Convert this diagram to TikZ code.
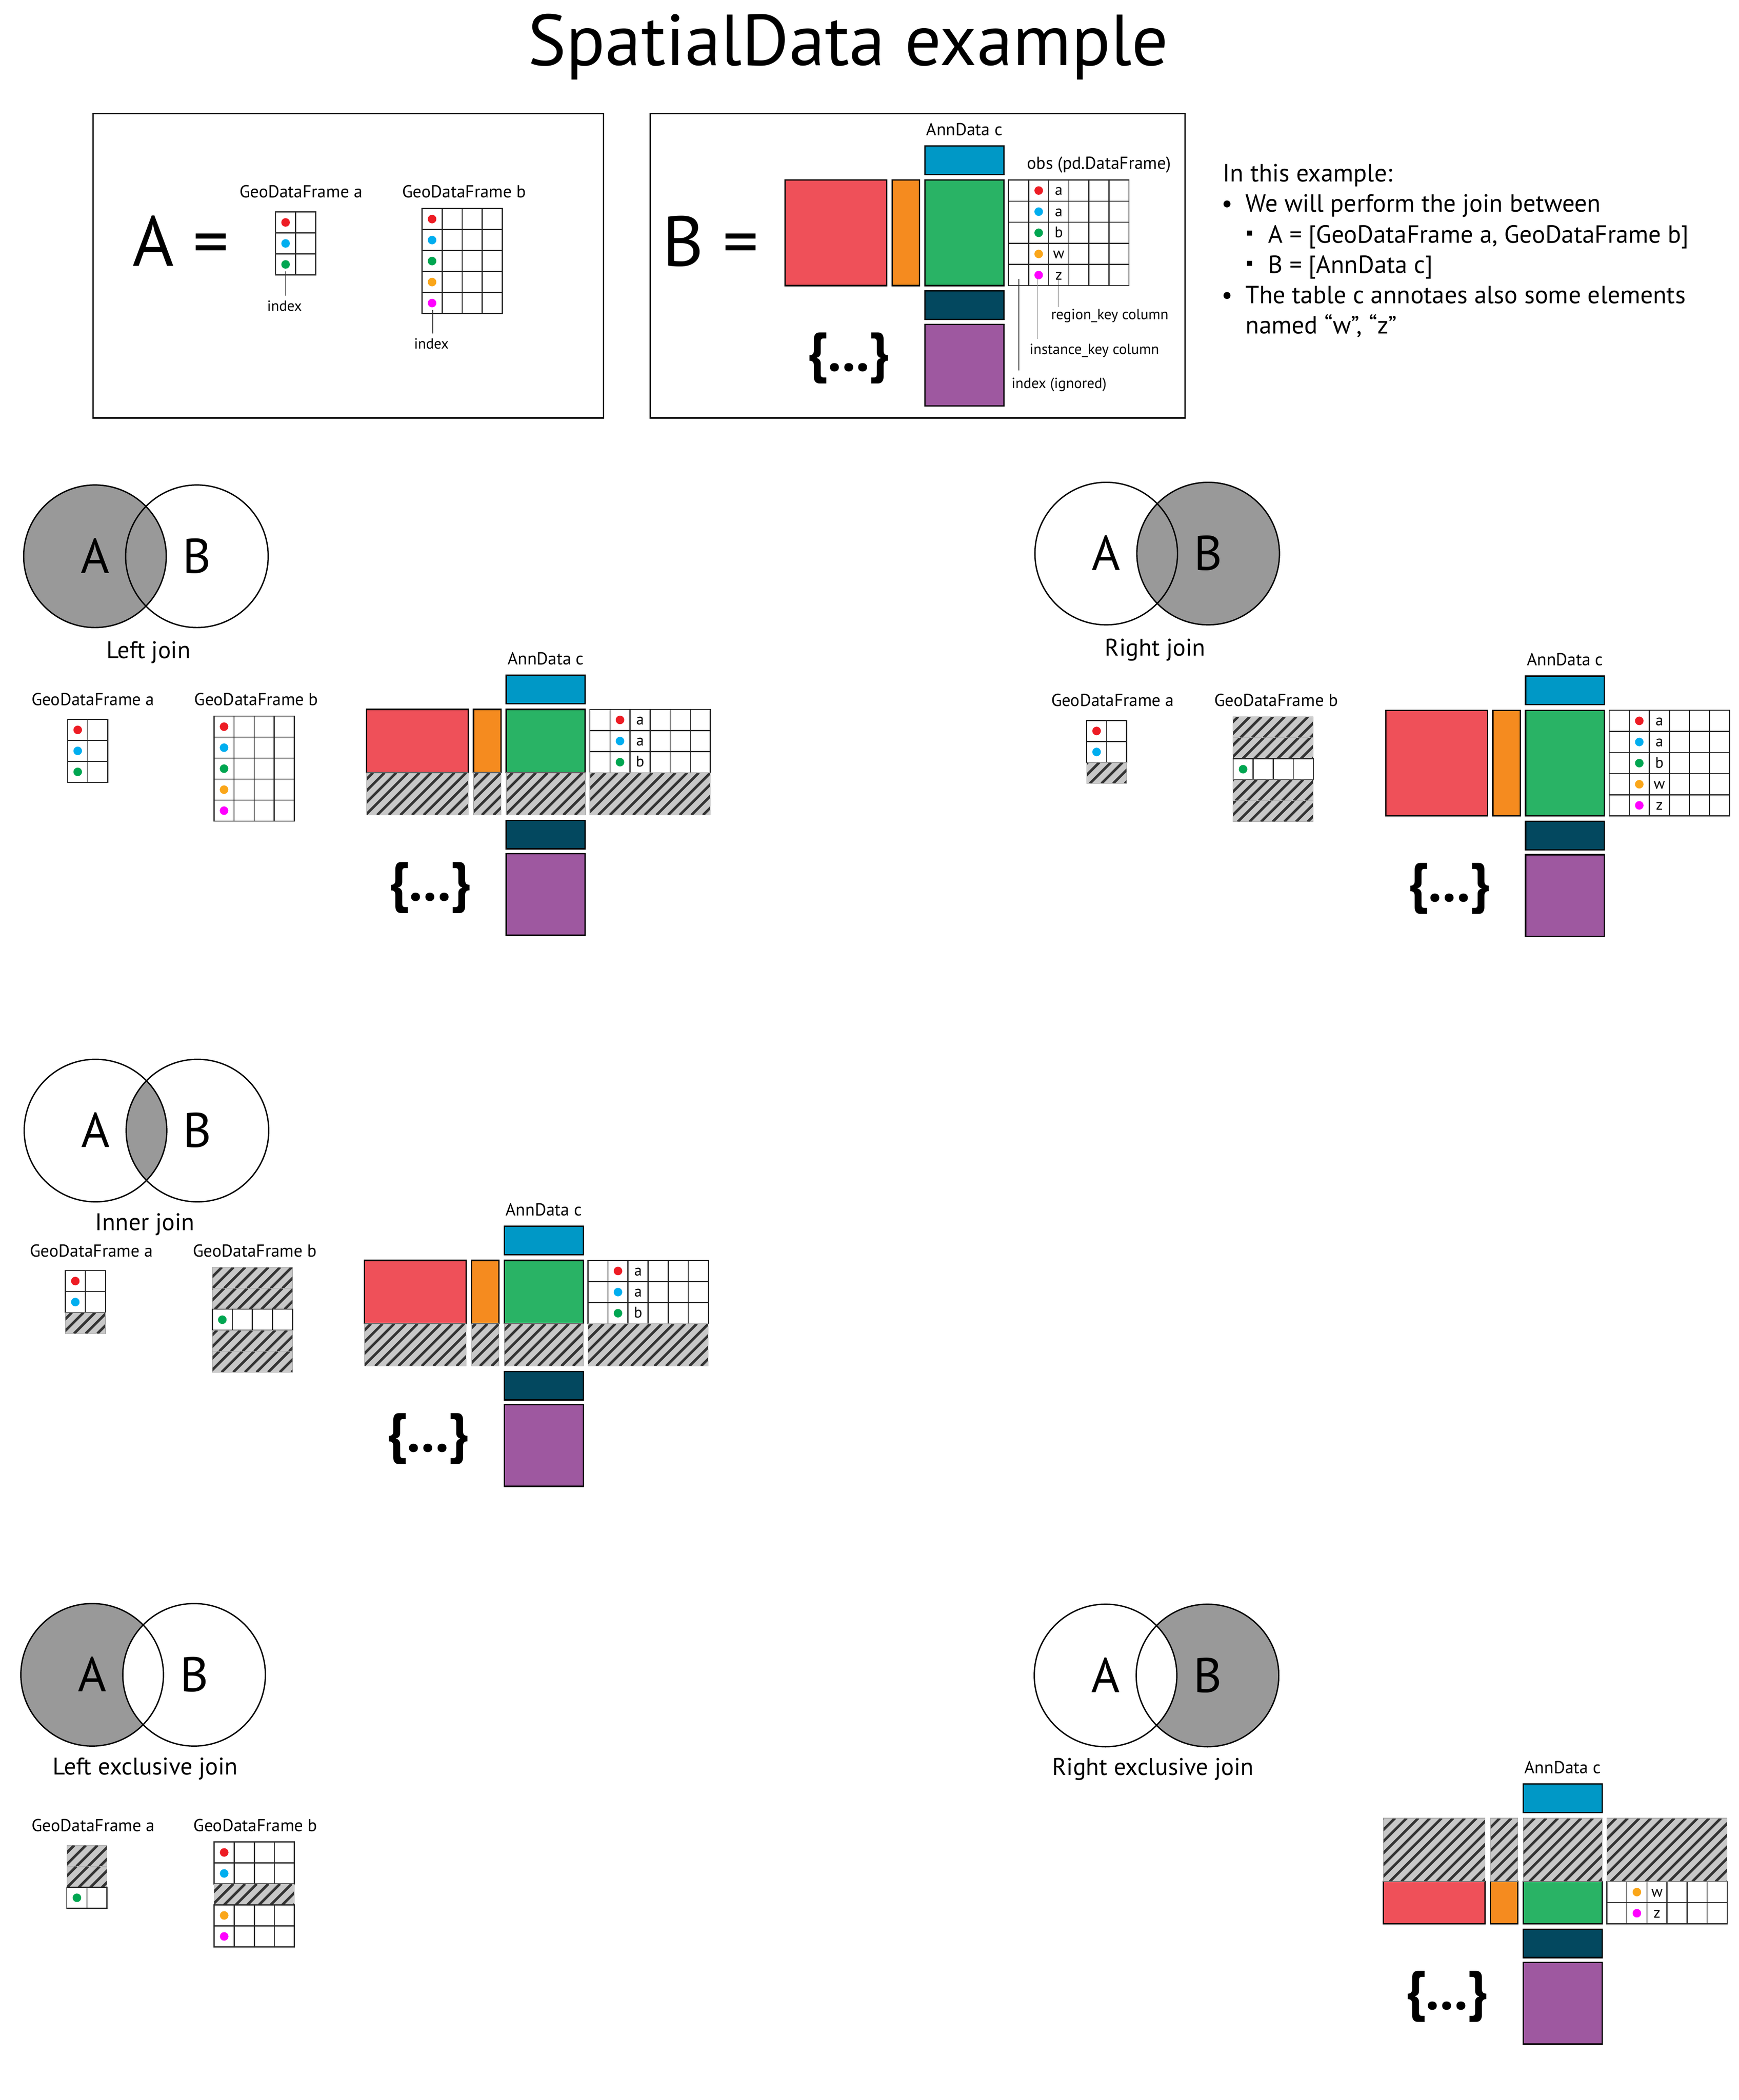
\documentclass[tikz,border=0pt]{standalone}
\usepackage{fontspec}
\setmainfont{PT Sans}
\usepackage{ifthen}

\definecolor{adred}{HTML}{EF5059}
\definecolor{adorange}{HTML}{F58B1F}
\definecolor{adgreen}{HTML}{29B365}
\definecolor{adblue}{HTML}{0098C6}
\definecolor{adteal}{HTML}{03485F}
\definecolor{adpurple}{HTML}{9E58A0}
\definecolor{venngray}{HTML}{999999}
\definecolor{hatchbg}{HTML}{C8C8C8}
\definecolor{hatchfg}{HTML}{333333}
\definecolor{dotR}{HTML}{ED1C24}
\definecolor{dotC}{HTML}{00AEEF}
\definecolor{dotG}{HTML}{00A651}
\definecolor{dotO}{HTML}{FAA61A}
\definecolor{dotM}{HTML}{FF00FF}

\tikzset{
  cell/.style={draw=black!85, line width=0.8pt},
  block/.style={draw=black, line width=1pt},
  panel/.style={draw=black, line width=1pt},
  venn/.style={draw=black, line width=1pt},
  stripe/.style={hatchfg, line width=1.9pt},
  hatchedge/.style={draw=black!35, line width=0.4pt},
  leader/.style={draw=black!80, line width=0.5pt},
  lbl/.style={inner sep=0pt, anchor=base, font=\fontsize{13}{15}\selectfont},
  small/.style={inner sep=0pt, anchor=base west, font=\fontsize{11}{13}\selectfont},
  cellfont/.style={inner sep=0pt, anchor=base, font=\fontsize{11.5}{13}\selectfont},
  txt/.style={inner sep=0pt, anchor=base west, font=\fontsize{18.6}{22}\selectfont},
  joinlbl/.style={inner sep=0pt, anchor=base, font=\fontsize{18}{21}\selectfont},
  vennlbl/.style={inner sep=0pt, anchor=base, font=\fontsize{36.5}{40}\selectfont},
  big/.style={inner sep=0pt, anchor=base west, font=\fontsize{53}{60}\selectfont},
  brace/.style={inner sep=0pt, anchor=base, font=\bfseries\fontsize{41}{46}\selectfont},
}

% striped grey box: x1 y1 x2 y2 (y grows downwards)
\newcommand{\hatchbox}[4]{%
  \begin{scope}
    \clip ({#1},{#2}) rectangle ({#3},{#4});
    \fill[hatchbg] ({#1},{#2}) rectangle ({#3},{#4});
    \pgfmathtruncatemacro{\kmin}{floor(((#1)+(#2))/8.7)}
    \pgfmathtruncatemacro{\kmax}{ceil(((#3)+(#4))/8.7)}
    \foreach \k in {\kmin,...,\kmax}
      \draw[stripe] ({\k*8.7-(#2)},{#2}) -- ({\k*8.7-(#4)},{#4});
  \end{scope}
  \draw[hatchedge] ({#1},{#2}) rectangle ({#3},{#4});}

% GeoDataFrame: name x y ncols rows
\newcommand{\gdftable}[5]{%
  \coordinate (#1) at (#2,#3);
  \foreach \rowc [count=\r from 0] in {#5} {
    \pgfmathsetmacro{\ya}{(#3)+\r*15.7}
    \pgfmathsetmacro{\yb}{\ya+15.7}
    \pgfmathsetmacro{\xb}{(#2)+(#4)*15}
    \ifthenelse{\equal{\rowc}{hatch}}
      {\hatchbox{#2}{\ya}{\xb}{\yb}}
      {\foreach \j in {1,...,#4}
         \draw[cell] ({(#2)+(\j-1)*15},\ya) rectangle ++(15,15.7);
       \fill[\rowc] ({(#2)+7.5},{\ya+7.85}) circle[radius=3.2pt];}
  }}

% AnnData: name x y firstrow lastrow
\newcommand{\anndata}[5]{%
  \begin{scope}[shift={(#2,#3)}]
    \pgfmathsetmacro{\ya}{(#4-1)*15.8}
    \pgfmathsetmacro{\yb}{#5*15.8}
    \draw[block, fill=adred] (0,\ya) rectangle (76,\yb);
    \draw[block, fill=adorange] (80,\ya) rectangle (100.5,\yb);
    \draw[block, fill=adgreen] (104.5,\ya) rectangle (163.5,\yb);
    \foreach \r/\dc/\lt in {1/dotR/a,2/dotC/a,3/dotG/b,4/dotO/w,5/dotM/z} {
      \ifnum\r<#4\relax\else\ifnum\r>#5\relax\else
        \foreach \j in {0,...,5}
          \draw[cell] ({167+\j*15},{(\r-1)*15.8}) rectangle ++(15,15.8);
        \fill[\dc] (189.5,{(\r-0.5)*15.8}) circle[radius=3.2pt];
        \node[cellfont] (#1-l\r) at (204.5,{(\r-0.5)*15.8+3.5}) {\lt};
      \fi\fi
    }
    \ifnum#4>1
      \hatchbox{0}{0}{76}{\ya}
      \hatchbox{80}{0}{100.5}{\ya}
      \hatchbox{104.5}{0}{163.5}{\ya}
      \hatchbox{167}{0}{257}{\ya}
    \fi
    \ifnum#5<5
      \hatchbox{0}{\yb}{76}{79}
      \hatchbox{80}{\yb}{100.5}{79}
      \hatchbox{104.5}{\yb}{163.5}{79}
      \hatchbox{167}{\yb}{257}{79}
    \fi
    \draw[block, fill=adblue] (104.5,-25.5) rectangle (163.5,-4.2);
    \draw[block, fill=adteal] (104.5,83) rectangle (163.5,104.3);
    \draw[block, fill=adpurple] (104.5,108) rectangle (163.5,169);
    \node[lbl] (#1-title) at (134,-33.4) {AnnData c};
    \node[brace] (#1-more) at (47.5,143) {\{...\}};
  \end{scope}}

% two circles with their letters: name xA y
\newcommand{\venncircles}[3]{%
  \draw[venn] (#2,#3) circle[radius=53.3pt];
  \draw[venn] ({#2+76.2},#3) circle[radius=53.3pt];
  \node[vennlbl] (#1-A) at (#2,{#3+12.5}) {A};
  \node[vennlbl] (#1-B) at ({#2+76.2},{#3+12.5}) {B};}

\begin{document}
\begin{tikzpicture}[x=1pt, y=-1pt]
  \fill[white] (0,0) rectangle (1300,1570.5);
  \useasboundingbox (0,0) rectangle (1300,1570.5);

  \node[inner sep=0pt, anchor=base, font=\fontsize{54}{60}\selectfont] (title) at (634,49) {SpatialData example};

  % panel A
  \draw[panel] (69.5,85) rectangle (451.3,312.5);
  \node[big] (pa-eq) at (99,199) {A =};
  \node[lbl] (pa-a) at (225,147.8) {GeoDataFrame a};
  \node[lbl] (pa-b) at (347,147.8) {GeoDataFrame b};
  \gdftable{pa-ta}{206}{158.5}{2}{dotR,dotC,dotG}
  \gdftable{pa-tb}{315.5}{156}{4}{dotR,dotC,dotG,dotO,dotM}
  \node[small, anchor=base] (pa-ixa) at (212.7,232.6) {index};
  \node[small, anchor=base] (pa-ixb) at (322.5,260.8) {index};
  \coordinate (pa-da) at (213.4,203);
  \coordinate (pa-db) at (323.6,231.8);
  \draw[leader, shorten >=3.4pt] (pa-da) -- (pa-da |- pa-ixa.north);
  \draw[leader, shorten >=3.4pt] (pa-db) -- (pa-db |- pa-ixb.north);

  % panel B
  \draw[panel] (486,85) rectangle (886,312.5);
  \node[big] (pb-eq) at (495,199) {B =};
  \anndata{pb}{587}{134.6}{1}{5}
  \node[lbl, anchor=base west] (pb-obs) at (767.6,126.5) {obs (pd.DataFrame)};
  \coordinate (pb-s1) at (761.6,208.5);
  \coordinate (pb-e1) at (761.6,277);
  \coordinate (pb-s2) at (775.6,208);
  \coordinate (pb-e2) at (775.6,253.6);
  \coordinate (pb-s3) at (791,209);
  \coordinate (pb-e3) at (791,229.6);
  \draw[leader] (pb-s1) -- (pb-e1);
  \draw[leader, black!45] (pb-s2) -- (pb-e2);
  \draw[leader] (pb-s3) -- (pb-e3);
  \node[small] (pb-rk) at (785.6,238.8) {region\_key column};
  \node[small] (pb-ik) at (769.5,265) {instance\_key column};
  \node[small] (pb-ix) at (756,290.5) {index (ignored)};

  % explanation
  \node[txt] (ex0) at (914,135.7) {In this example:};
  \node[txt] (ex1b) at (913,158.4) {\textbullet};
  \node[txt] (ex1) at (931,158.4) {We will perform the join between};
  \fill (932.2,172.3) rectangle (936,176.2);
  \node[txt] (ex2) at (948,181.6) {A = [GeoDataFrame a, GeoDataFrame b]};
  \fill (932.2,195) rectangle (936,198.9);
  \node[txt] (ex3) at (948,204.3) {B = [AnnData c]};
  \node[txt] (ex4b) at (913,227) {\textbullet};
  \node[txt] (ex4) at (931,227) {The table c annotaes also some elements};
  \node[txt] (ex5) at (931,249.7) {named “w”, “z”};

  % left join
  \fill[venngray] (71,416) circle[radius=53.3pt];
  \venncircles{lj}{71}{416}
  \node[joinlbl] (lj-name) at (111,492.5) {Left join};
  \node[lbl] (lj-a) at (69.5,527.4) {GeoDataFrame a};
  \node[lbl] (lj-b) at (191.6,527.4) {GeoDataFrame b};
  \gdftable{lj-ta}{50.6}{538}{2}{dotR,dotC,dotG}
  \gdftable{lj-tb}{160}{535.6}{4}{dotR,dotC,dotG,dotO,dotM}
  \anndata{lj}{274}{530.5}{1}{3}

  % right join
  \fill[venngray] (903.2,414) circle[radius=53.3pt];
  \venncircles{rj}{827}{414}
  \node[joinlbl] (rj-name) at (863.6,490.5) {Right join};
  \node[lbl] (rj-a) at (831.8,528.2) {GeoDataFrame a};
  \node[lbl] (rj-b) at (954,528.2) {GeoDataFrame b};
  \gdftable{rj-ta}{812.3}{538.8}{2}{dotR,dotC,hatch}
  \gdftable{rj-tb}{921.8}{536}{4}{hatch,hatch,dotG,hatch,hatch}
  \anndata{rj}{1036}{531.2}{1}{5}

  % inner join
  \begin{scope}
    \clip (71.4,845.5) circle[radius=53.3pt];
    \fill[venngray] (147.6,845.5) circle[radius=53.3pt];
  \end{scope}
  \venncircles{ij}{71.4}{845.5}
  \node[joinlbl] (ij-name) at (108.3,920) {Inner join};
  \node[lbl] (ij-a) at (68.4,940) {GeoDataFrame a};
  \node[lbl] (ij-b) at (190.5,940) {GeoDataFrame b};
  \gdftable{ij-ta}{48.8}{950.2}{2}{dotR,dotC,hatch}
  \gdftable{ij-tb}{158.7}{947.7}{4}{hatch,hatch,dotG,hatch,hatch}
  \anndata{ij}{272.5}{942.6}{1}{3}

  % left exclusive join
  \fill[venngray] (68.9,1252.5) circle[radius=53.3pt];
  \begin{scope}
    \clip (68.9,1252.5) circle[radius=53.3pt];
    \fill[white] (145.1,1252.5) circle[radius=53.3pt];
  \end{scope}
  \venncircles{lx}{68.9}{1252.5}
  \node[joinlbl] (lx-name) at (108.7,1327.3) {Left exclusive join};
  \node[lbl] (lx-a) at (69.6,1369.5) {GeoDataFrame a};
  \node[lbl] (lx-b) at (191,1369.5) {GeoDataFrame b};
  \gdftable{lx-ta}{50}{1380}{2}{hatch,hatch,dotG}
  \gdftable{lx-tb}{160.1}{1377.5}{4}{dotR,dotC,hatch,dotO,dotM}

  % right exclusive join
  \fill[venngray] (902.7,1253) circle[radius=53.3pt];
  \begin{scope}
    \clip (902.7,1253) circle[radius=53.3pt];
    \fill[white] (826.5,1253) circle[radius=53.3pt];
  \end{scope}
  \venncircles{rx}{826.5}{1253}
  \node[joinlbl] (rx-name) at (862,1327.5) {Right exclusive join};
  \anndata{rx}{1034.2}{1359.7}{4}{5}
\end{tikzpicture}
\end{document}
